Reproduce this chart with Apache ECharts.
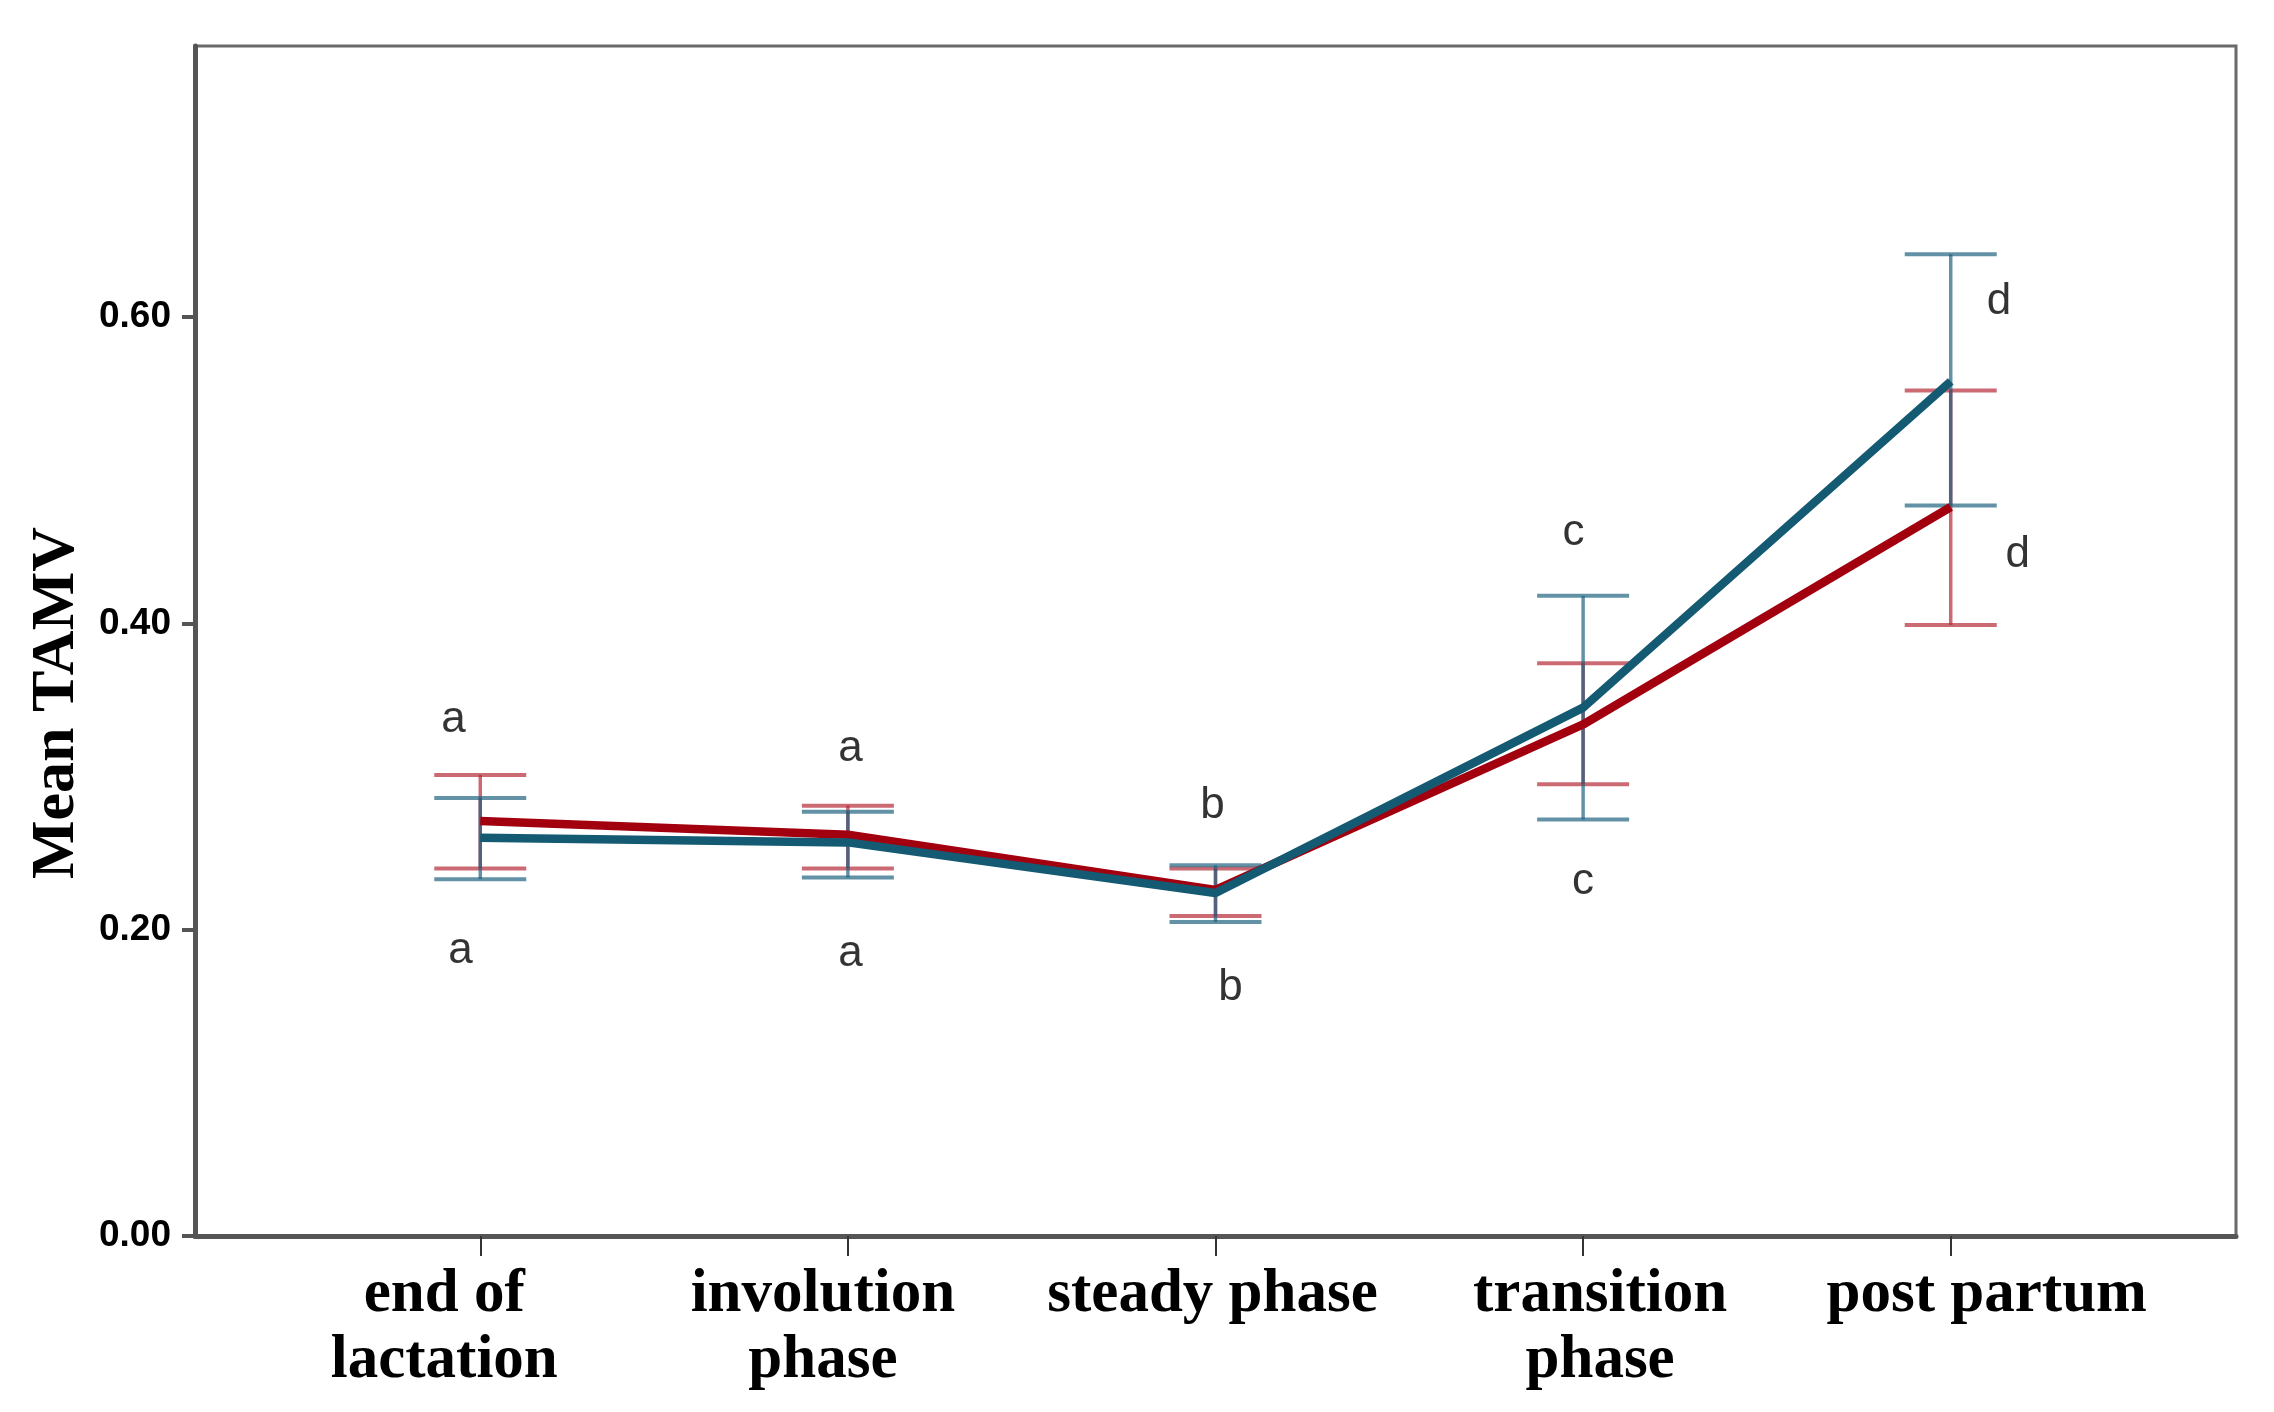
<!DOCTYPE html>
<html><head><meta charset="utf-8">
<script src="https://cdn.jsdelivr.net/npm/echarts@6/dist/echarts.min.js"></script>
<style>html,body{margin:0;padding:0;background:#fff}#c{width:2274px;height:1412px}</style>
</head><body><div id="c"></div>
<script>
// ---- data ----
const categories = ['end of\nlactation', 'involution\nphase', 'steady phase', 'transition\nphase', 'post partum'];
const yTickValues = [0, 0.2, 0.4, 0.6];
const redMean  = [0.271, 0.262, 0.226, 0.334, 0.476];
const redLow   = [0.240, 0.240, 0.209, 0.295, 0.399];
const redHigh  = [0.301, 0.281, 0.240, 0.374, 0.552];
const blueMean = [0.260, 0.257, 0.224, 0.345, 0.558];
const blueLow  = [0.233, 0.234, 0.205, 0.272, 0.477];
const blueHigh = [0.286, 0.277, 0.242, 0.418, 0.641];
const letters  = ['a', 'a', 'a', 'a', 'b', 'b', 'c', 'c', 'd', 'd'];
const letterX  = [-0.073, -0.054, 1.007, 1.007, 1.992, 2.041, 2.974, 3.0, 4.131, 4.182];
const letterY  = [0.337, 0.186, 0.318, 0.184, 0.281, 0.162, 0.459, 0.231, 0.610, 0.445];

// ---- styles ----
const labelShift = [-36, -25, -3, 17, 36];
const RED = '#a3000f', BLUE = '#145a72';
const RED_ERR = 'rgba(180,35,50,0.68)', BLUE_ERR = 'rgba(25,95,125,0.68)';
const catIdx = categories.map((_, i) => i);

const rich = {};
catIdx.forEach(i => {
  const s = labelShift[i];
  rich['s' + i] = {
    fontFamily: 'Liberation Serif', fontWeight: 'bold', fontSize: 61, color: '#000',
    lineHeight: 66,
    padding: s < 0 ? [0, -2 * s, 0, 0] : [0, 0, 0, 2 * s]
  };
});

function errRender(color) {
  return function (params, api) {
    const x = api.value(0), lo = api.value(1), hi = api.value(2);
    const pHi = api.coord([x, hi]), pLo = api.coord([x, lo]);
    const hw = 46;
    return {
      type: 'group', children: [
        { type: 'line', shape: { x1: pHi[0], y1: pHi[1], x2: pLo[0], y2: pLo[1] }, style: { stroke: color, lineWidth: 3.5 } },
        { type: 'line', shape: { x1: pHi[0] - hw, y1: pHi[1], x2: pHi[0] + hw, y2: pHi[1] }, style: { stroke: color, lineWidth: 4 } },
        { type: 'line', shape: { x1: pLo[0] - hw, y1: pLo[1], x2: pLo[0] + hw, y2: pLo[1] }, style: { stroke: color, lineWidth: 4 } }
      ]
    };
  };
}

const chart = echarts.init(document.getElementById('c'), null, { renderer: 'canvas' });
chart.setOption({
  animation: false,
  backgroundColor: '#fff',
  grid: { left: 195, right: 38, top: 46, bottom: 176, show: true, borderColor: '#6a6a6a', borderWidth: 3, containLabel: false },
  xAxis: {
    type: 'value', min: -0.776, max: 4.776,
    splitLine: { show: false },
    axisLine: { show: true, onZero: false, lineStyle: { color: '#555', width: 5 } },
    axisTick: { show: true, customValues: catIdx, length: 20, lineStyle: { color: '#333', width: 2 } },
    axisLabel: {
      show: true, customValues: catIdx, margin: 26, color: '#000',
      formatter: v => {
        const i = Math.round(v);
        return categories[i].split('\n').map(l => '{s' + i + '|' + l + '}').join('\n');
      },
      rich: rich
    }
  },
  yAxis: {
    type: 'value', min: 0, max: 0.777,
    name: 'Mean TAMV', nameLocation: 'middle', nameRotate: 90, nameGap: 107,
    nameTextStyle: { fontFamily: 'Liberation Serif', fontWeight: 'bold', fontSize: 62, color: '#000', padding: [0, 124, 0, 0] },
    splitLine: { show: false },
    axisLine: { show: true, onZero: false, lineStyle: { color: '#555', width: 5 } },
    axisTick: { show: true, customValues: yTickValues, length: 13, lineStyle: { color: '#555', width: 4 } },
    axisLabel: {
      show: true, customValues: yTickValues, margin: 24,
      fontFamily: 'Liberation Sans', fontWeight: 'bold', fontSize: 37, color: '#000',
      formatter: v => v.toFixed(2)
    }
  },
  series: [
    { type: 'custom', renderItem: errRender(RED_ERR), data: catIdx.map(i => [i, redLow[i], redHigh[i]]), z: 1 },
    { type: 'custom', renderItem: errRender(BLUE_ERR), data: catIdx.map(i => [i, blueLow[i], blueHigh[i]]), z: 1 },
    { type: 'line', data: catIdx.map(i => [i, redMean[i]]), showSymbol: false, lineStyle: { color: RED, width: 8.5 }, z: 2 },
    { type: 'line', data: catIdx.map(i => [i, blueMean[i]]), showSymbol: false, lineStyle: { color: BLUE, width: 8.5 }, z: 3 },
    {
      type: 'scatter', symbolSize: 0, z: 4,
      data: letters.map((t, i) => [letterX[i], letterY[i]]),
      label: {
        show: true, position: 'inside', formatter: p => letters[p.dataIndex],
        fontFamily: 'Liberation Sans', fontSize: 44, color: '#000', textBorderWidth: 0
      }
    }
  ]
});
</script>
</body></html>
